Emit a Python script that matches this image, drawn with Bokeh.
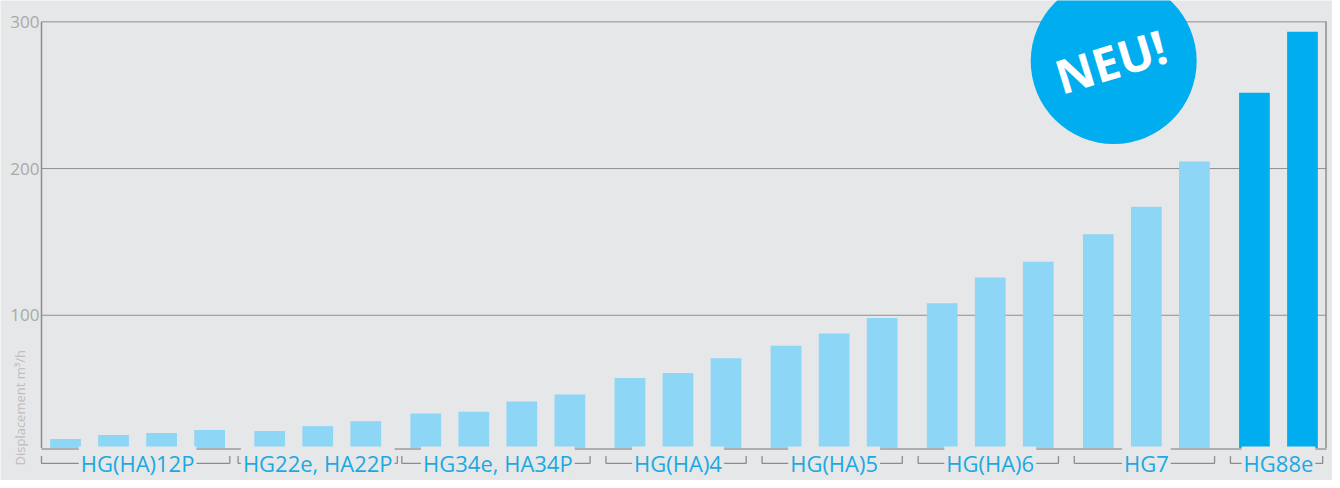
from bokeh.plotting import figure
from bokeh.models import Range1d, ColumnDataSource
from bokeh.transform import factor_cmap
from bokeh.core.properties import value
from bokeh.embed import file_html
from bokeh.resources import INLINE

# ---------------- data ----------------
groups = ["HG(HA)12P", "HG22e, HA22P", "HG34e, HA34P", "HG(HA)4",
          "HG(HA)5", "HG(HA)6", "HG7", "HG88e"]
new_groups = ["HG88e"]

bar_group = (["HG(HA)12P"] * 4 + ["HG22e, HA22P"] * 3 + ["HG34e, HA34P"] * 4 +
             ["HG(HA)4"] * 3 + ["HG(HA)5"] * 3 + ["HG(HA)6"] * 3 +
             ["HG7"] * 3 + ["HG88e"] * 2)
displacement = [15.7, 18.4, 19.7, 21.8,
                21.1, 24.4, 27.8,
                33.0, 34.3, 41.2, 45.9,
                57.3, 60.6, 70.7,
                79.2, 87.5, 98.2,
                108.2, 125.7, 136.4,
                155.2, 174.0, 204.8,
                251.7, 293.3]
y_ticks = [100, 200, 300]
y_title = "Displacement m³/h"
badge_text = "NEU!"

# ---------------- style / layout ----------------
BG = "#e6e7e8"
LIGHT = "#8dd6f6"
DARK = "#00aeef"
LABEL_C = "#1ba9e3"
LINE_C = "#8c8c8c"
GRID_C = "#8f8f8f"
TICK_C = "#a9a9a9"
TITLE_C = "#bdbdbd"
FONT = "Open Sans"

W, H = 1332, 480
FRAME_L, FRAME_R = 41, 1326     # plot area edges in pixels
GROUP_GAP = 0.25                # extra space between model families (bar units)
BAR_W = 0.64
LABEL_PX = 22                   # family label font size
CHAR_PX = 12.6                  # rough label advance per character

BASE = 9.5          # axis start (bar baseline)
TOP = 300
Y_LO, Y_HI = -12.64, 314.55
Y_BR = -1.0         # bracket horizontal line / label centre
Y_TICK = 4.0        # bracket tick top

# bar positions follow the family grouping (like a nested categorical axis)
xpos = []
pos, prev = 0.0, None
for g in bar_group:
    if prev is not None and g != prev:
        pos += GROUP_GAP
    xpos.append(pos)
    pos += 1
    prev = g

left_edge = xpos[0] - 0.5
right_edge = xpos[-1] + 0.5
PX = (FRAME_R - FRAME_L) / (right_edge - left_edge)
X0 = left_edge - FRAME_L / PX

p = figure(width=W, height=H,
           x_range=Range1d(X0, X0 + W / PX), y_range=Range1d(Y_LO, Y_HI),
           output_backend="svg", toolbar_location=None,
           x_axis_location=None, y_axis_location=None,
           min_border=0, background_fill_color=BG, border_fill_color=BG,
           outline_line_color=None)
p.grid.visible = False

# horizontal grid lines (plot area only)
p.segment(x0=[left_edge] * len(y_ticks), y0=y_ticks,
          x1=[right_edge] * len(y_ticks), y1=y_ticks,
          line_color=GRID_C, line_width=1)

# y tick labels
p.text(x=[left_edge] * len(y_ticks), y=y_ticks, text=[str(t) for t in y_ticks],
       x_offset=-2, text_align="right", text_baseline="middle",
       text_font=value(FONT), text_font_size="17px", text_color=TICK_C)

# y title
p.text(x=[X0 + 19 / PX], y=[-2.4], text=[y_title], angle=90, angle_units="deg",
       text_align="left", text_baseline="middle",
       text_font=value(FONT), text_font_size="13px", text_color=TITLE_C)

# bars
src = ColumnDataSource(dict(x=xpos, group=bar_group, top=displacement))
palette = [DARK if g in new_groups else LIGHT for g in groups]
p.vbar(x="x", top="top", bottom=BASE, width=BAR_W, source=src,
       fill_color=factor_cmap("group", palette=palette, factors=groups),
       line_color=None)

# frame lines (left axis, right border, bottom axis)
p.segment(x0=[left_edge, right_edge - 0.01], y0=[BASE, BASE],
          x1=[left_edge, right_edge - 0.01], y1=[TOP, TOP],
          line_color=LINE_C, line_width=1.5)
p.segment(x0=[left_edge], y0=[BASE - 0.7], x1=[right_edge], y1=[BASE - 0.7],
          line_color="#afafaf", line_width=2)

# group brackets and labels
hx0, hx1, lx = [], [], []
for g in groups:
    xs = [x for x, gg in zip(xpos, bar_group) if gg == g]
    c = (xs[0] + xs[-1]) / 2
    half = (len(g) * CHAR_PX / 2 + 4) / PX
    hx0.append(min(xs[0] - 0.5, c - half))
    hx1.append(max(xs[-1] + 0.42, c + half))
    lx.append(c)

n = len(groups)
p.segment(x0=hx0, y0=[Y_BR] * n, x1=hx1, y1=[Y_BR] * n,
          line_color=LINE_C, line_width=1.3)
p.text(x=lx, y=[Y_BR] * n, text=groups,
       text_font=value(FONT), text_font_size=f"{LABEL_PX}px", text_color=LABEL_C,
       text_align="center", text_baseline="middle",
       background_fill_color=BG, padding=2)
tx = hx0 + hx1
p.segment(x0=tx, y0=[Y_BR] * len(tx), x1=tx, y1=[Y_TICK] * len(tx),
          line_color=LINE_C, line_width=1.3)

# "NEU!" badge
badge_x = xpos[bar_group.index("HG7")] + 0.32
badge_y = 273.2
p.scatter(x=[badge_x], y=[badge_y], size=166, marker="circle",
          fill_color=DARK, line_color=None)
p.text(x=[badge_x], y=[badge_y], text=[badge_text], angle=17, angle_units="deg",
       text_font=value(FONT), text_font_style="bold", text_font_size="47px",
       text_color="white", text_align="center", text_baseline="middle", x_offset=-3)

open("out.html", "w").write(file_html(p, INLINE))
